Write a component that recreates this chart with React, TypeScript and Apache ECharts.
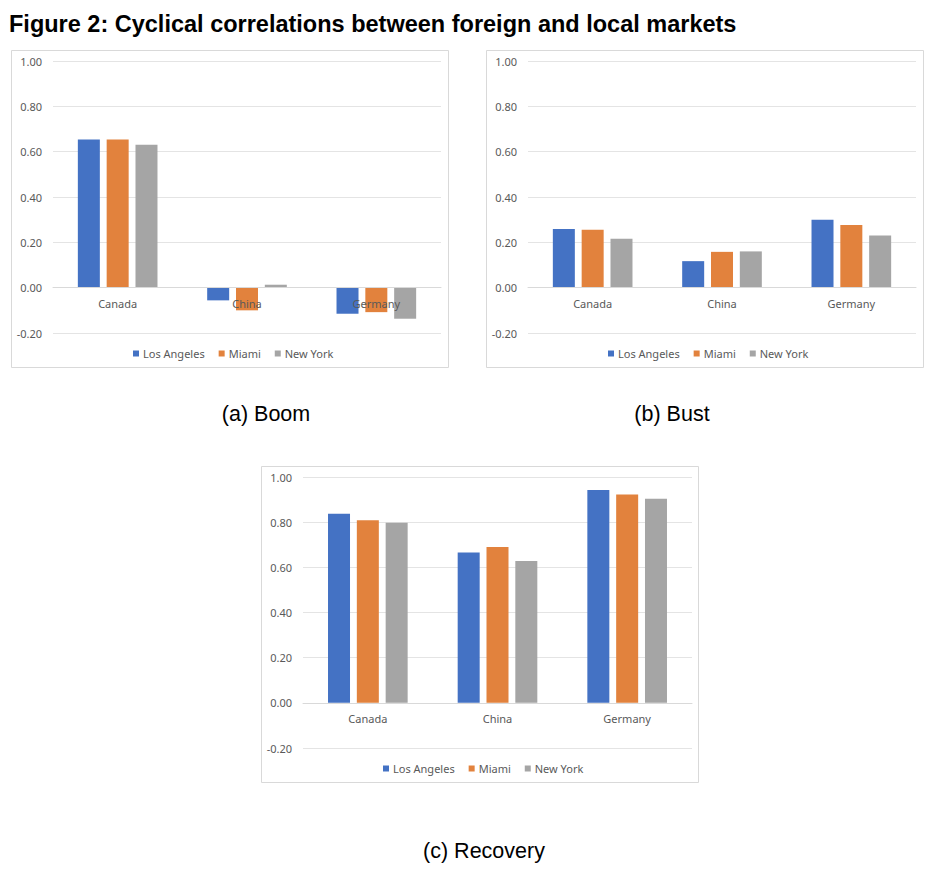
import React, { useEffect, useRef } from "react";
import * as echarts from "echarts";

const categories = ["Canada", "China", "Germany"];
const seriesNames = ["Los Angeles", "Miami", "New York"];
const boomLA = [0.654, -0.056, -0.115];
const boomMiami = [0.654, -0.1, -0.108];
const boomNY = [0.63, 0.013, -0.137];
const bustLA = [0.259, 0.117, 0.3];
const bustMiami = [0.255, 0.158, 0.276];
const bustNY = [0.216, 0.16, 0.23];
const recLA = [0.837, 0.666, 0.942];
const recMiami = [0.808, 0.69, 0.923];
const recNY = [0.797, 0.628, 0.904];
const yMin = -0.2;
const yMax = 1.0;
const yStep = 0.2;
const titleText = "Figure 2: Cyclical correlations between foreign and local markets";
const captions = ["(a) Boom", "(b) Bust", "(c) Recovery"];

const colors = ["#4472C4", "#E2823D", "#A5A5A5"];
const labelColor = "#595959";
const font = "'Noto Sans', sans-serif";

export default function App() {
  const ref = useRef<HTMLDivElement>(null);
  useEffect(() => {
    if (!ref.current) return;
    const chart = echarts.init(ref.current, null, { renderer: "svg" });
    const panels = [
      { grid: { left: 53, top: 61, width: 388, height: 272 }, border: { x: 11, y: 50, w: 437, h: 317 }, legend: { left: 128, top: 343 }, data: [boomLA, boomMiami, boomNY] },
      { grid: { left: 528, top: 61, width: 388, height: 272 }, border: { x: 486, y: 50, w: 437, h: 317 }, legend: { left: 603, top: 343 }, data: [bustLA, bustMiami, bustNY] },
      { grid: { left: 303, top: 477, width: 389, height: 271 }, border: { x: 261, y: 466, w: 437, h: 316 }, legend: { left: 378, top: 758 }, data: [recLA, recMiami, recNY] },
    ];
    const series: any[] = [];
    panels.forEach((p, pi) => {
      p.data.forEach((d, si) => {
        series.push({
          type: "bar",
          name: seriesNames[si],
          xAxisIndex: pi,
          yAxisIndex: pi,
          data: d,
          barWidth: 22,
          barGap: "31%",
          itemStyle: { color: colors[si] },
        });
      });
    });
    chart.setOption({
      animation: false,
      backgroundColor: "#ffffff",
      textStyle: { fontFamily: font },
      grid: panels.map((p) => ({ ...p.grid, containLabel: false })),
      xAxis: panels.map((p, i) => ({
        type: "category",
        gridIndex: i,
        data: categories,
        z: 5,
        position: "bottom",
        // place the category axis at the value 0 of the y axis
        offset: -(p.grid.height * (0 - yMin)) / (yMax - yMin),
        axisLine: { onZero: false, lineStyle: { color: "#D9D9D9" } },
        axisTick: { show: false },
        axisLabel: { color: labelColor, fontSize: 11, fontFamily: font, margin: 10 },
      })),
      yAxis: panels.map((_, i) => ({
        type: "value",
        gridIndex: i,
        min: yMin,
        max: yMax,
        interval: yStep,
        axisLine: { show: false },
        axisTick: { show: false },
        splitLine: { lineStyle: { color: "#E4E4E4" } },
        axisLabel: {
          color: labelColor,
          fontSize: 11,
          fontFamily: font,
          margin: 11,
          formatter: (v: number) => v.toFixed(2),
        },
      })),
      legend: panels.map((p) => ({
        left: p.legend.left,
        top: p.legend.top,
        data: seriesNames,
        icon: "rect",
        itemWidth: 6,
        itemHeight: 6,
        itemGap: 14,
        textStyle: { color: labelColor, fontSize: 11, fontFamily: font, padding: [0, 0, 0, -1] },
        selectedMode: false,
      })),
      graphic: [
        ...panels.map((p) => ({
          type: "rect",
          z: -10,
          silent: true,
          shape: { x: p.border.x + 0.5, y: p.border.y + 0.5, width: p.border.w, height: p.border.h },
          style: { fill: "#ffffff", stroke: "#D9D9D9", lineWidth: 1 },
        })),
        {
          type: "text",
          x: 9,
          y: 24,
          style: { text: titleText, font: "bold 23.5px 'Liberation Sans', Arial, sans-serif", fill: "#000000", verticalAlign: "middle" },
        },
        {
          type: "text",
          x: 266,
          y: 414,
          style: { text: captions[0], font: "21.5px 'Liberation Sans', Arial, sans-serif", fill: "#000000", align: "center", verticalAlign: "middle" },
        },
        {
          type: "text",
          x: 672,
          y: 414,
          style: { text: captions[1], font: "21.5px 'Liberation Sans', Arial, sans-serif", fill: "#000000", align: "center", verticalAlign: "middle" },
        },
        {
          type: "text",
          x: 484,
          y: 851,
          style: { text: captions[2], font: "21.5px 'Liberation Sans', Arial, sans-serif", fill: "#000000", align: "center", verticalAlign: "middle" },
        },
      ],
      series,
    });
    return () => chart.dispose();
  }, []);
  return <div ref={ref} style={{ position: "absolute", left: 0, top: 0, width: 942, height: 876 }} />;
}
